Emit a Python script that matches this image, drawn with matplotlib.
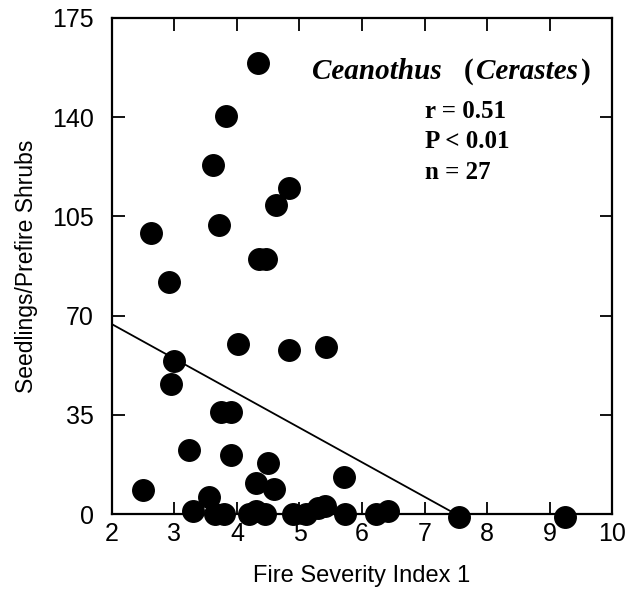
import numpy as np
import matplotlib.pyplot as plt

# points
fire_index = [2.5, 2.62, 2.92, 3.0, 2.95, 3.24, 3.3, 3.55, 3.65, 3.8,
              3.62, 3.71, 3.83, 3.75, 3.9, 3.9, 4.02, 4.33, 4.35, 4.47,
              4.62, 4.84, 4.84, 5.43, 4.3, 4.5, 4.6, 5.71, 4.2, 4.3,
              4.45, 4.9, 5.1, 5.3, 5.4, 5.72, 6.22, 6.42, 7.55, 9.25]
seedlings = [8.5, 99, 82, 54, 46, 22.6, 1.2, 6, 0, 0,
             123, 102, 140.5, 36, 36, 21, 60, 159, 90, 90,
             109, 115, 58, 59, 11, 18, 9, 13, 0, 1,
             0, 0, 0, 2, 3, 0, 0, 1, -1, -1]

fit_x = [2.0, 7.5]
fit_y = [67.0, 0.0]

xticks = [2, 3, 4, 5, 6, 7, 8, 9, 10]
yticks = [0, 35, 70, 105, 140, 175]

fig = plt.figure(figsize=(6.28, 5.93), dpi=100)
ax = fig.add_axes([0.178, 0.133, 0.797, 0.837])

ax.scatter(fire_index, seedlings, s=240, color='black', zorder=3, clip_on=False)
ax.plot(fit_x, fit_y, color='black', lw=1.3)

ax.set_xlim(2, 10)
ax.set_ylim(0, 175)
ax.set_xticks(xticks)
ax.set_yticks(yticks)
ax.tick_params(direction='in', length=9, width=1.3, top=True, right=True,
               labelsize=18)
ax.tick_params(axis='x', pad=6)
ax.tick_params(axis='y', pad=13)
for lab in ax.get_xticklabels() + ax.get_yticklabels():
    lab.set_family('Liberation Sans')
for sp in ax.spines.values():
    sp.set_linewidth(1.6)

ax.set_xlabel('Fire Severity Index 1', fontsize=17, family='Liberation Sans', labelpad=13)
ax.set_ylabel('Seedlings/Prefire Shrubs', fontsize=16.5, family='Liberation Sans', labelpad=10)

# title pieces chained left to right
fig.canvas.draw()
rend = fig.canvas.get_renderer()
pieces = [('Ceanothus', 'italic', 0), ('(', 'normal', 22), ('Cerastes', 'italic', 3), (')', 'normal', 3)]
x_px = ax.transAxes.transform((0.4, 0.891))[0]
y_ax = 0.891
for txt, st, gap in pieces:
    x_px += gap
    xa = ax.transAxes.inverted().transform((x_px, 0))[0]
    t = ax.text(xa, y_ax, txt, transform=ax.transAxes, fontsize=21,
                family='Liberation Serif', style=st, weight='bold', va='center')
    x_px = t.get_window_extent(rend).x1

ax.text(0.626, 0.75, 'r = 0.51\nP < 0.01\nn = 27', transform=ax.transAxes,
        fontsize=18, family='Liberation Serif', weight='bold', va='center',
        linespacing=1.4)

fig.savefig('out.png', dpi=100)
